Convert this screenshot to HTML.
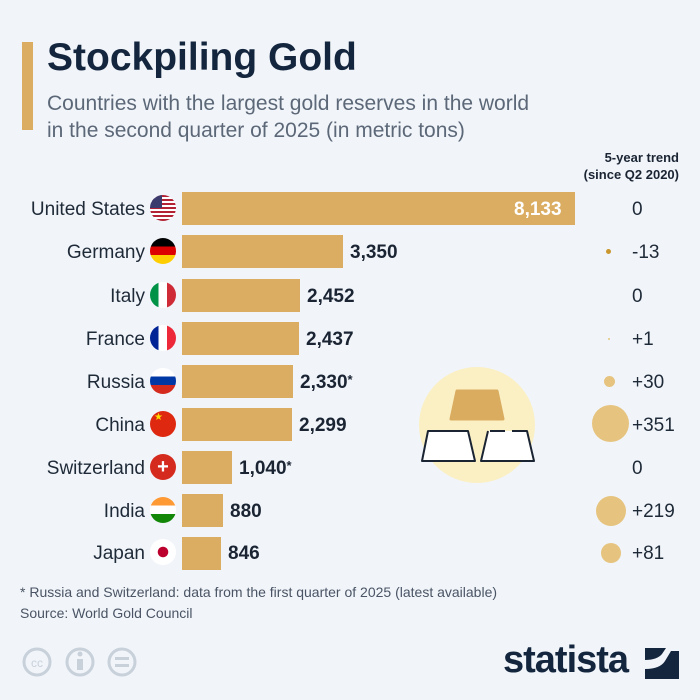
<!DOCTYPE html>
<html><head><meta charset="utf-8"><style>
body{margin:0;width:700px;height:700px;background:#f1f5fa;font-family:"Liberation Sans",sans-serif;position:relative;overflow:hidden;color:#1a2433}
.a{position:absolute;white-space:nowrap}
.lab{position:absolute;right:555px;font-size:19px;color:#1f2a38;margin-top:2px}
.bar{position:absolute;left:182px;height:33px;background:#dbad63}
.val{position:absolute;font-size:19px;font-weight:bold;color:#1a2433;margin-top:2px}
.tr{position:absolute;left:632px;font-size:19px;color:#1f2a38;margin-top:2px}
.flag{position:absolute;left:150px;width:26px;height:26px;border-radius:50%;overflow:hidden}
.dot{position:absolute;border-radius:50%;background:#e6c47f}
</style></head><body>
<div class="a" style="left:22px;top:42px;width:11px;height:88px;background:#dbad63"></div>
<div class="a" style="left:47px;top:36px;font-size:39px;font-weight:bold;color:#14263e">Stockpiling Gold</div>
<div class="a" style="left:47px;top:90px;font-size:21px;line-height:27px;color:#5c6878">Countries with the largest gold reserves in the world<br>in the second quarter of 2025 (in metric tons)</div>
<div class="a" style="left:572px;top:149px;font-size:13px;font-weight:bold;line-height:17px;text-align:right;width:107px">5-year trend<br>(since Q2 2020)</div>

<svg class="a" style="left:0;top:0" width="700" height="700">
<circle cx="477" cy="425" r="58" fill="#fbefc4"/>
<path d="M457 391 h40 l6 28 h-52 z" fill="#d9ac60" stroke="#d9ac60" stroke-width="3" stroke-linejoin="round"/>
<path d="M428 431 h40 l7 30 h-53 z" fill="#fff" stroke="#1a2433" stroke-width="2" stroke-linejoin="round"/>
<path d="M490 431 h15 M512 431 h15 l7 30 h-53 l7 -30" fill="#fff" stroke="#1a2433" stroke-width="2" stroke-linejoin="round"/>
<g fill="none" stroke="#c8d0da" stroke-width="3">
<circle cx="37" cy="662" r="13"/><circle cx="80" cy="662" r="13"/><circle cx="122" cy="662" r="13"/></g>
<text x="37" y="667" font-size="12" text-anchor="middle" fill="#c8d0da" font-family="Liberation Sans">cc</text>
<rect x="77" y="659" width="6" height="11" fill="#c8d0da"/><circle cx="80" cy="654" r="2.5" fill="#c8d0da"/>
<rect x="115" y="657" width="14" height="3" fill="#c8d0da"/><rect x="115" y="664" width="14" height="3" fill="#c8d0da"/>
<rect x="645" y="648" width="34" height="31" fill="#14263e"/>
<path d="M645 660 q12 0 17 -6 l4 -6 h13 v3 h-8 l-6 10 q-5 8 -20 8 z" fill="#f1f5fa"/>
</svg>
<div class="a" style="left:503px;top:639px;font-size:38px;font-weight:bold;color:#14263e;letter-spacing:-1px">statista</div>
<div class="a" style="left:20px;top:584px;font-size:14px;color:#4a5464">* Russia and Switzerland: data from the first quarter of 2025 (latest available)</div>
<div class="a" style="left:20px;top:605px;font-size:14px;color:#4a5464">Source: World Gold Council</div>

<div class="lab" style="top:197px">United States</div><div class="flag" style="top:195px;background:repeating-linear-gradient(#b22234 0 2px,#fff 2px 4px)"><div style="width:12px;height:13px;background:#3c3b6e"></div></div>
<div class="bar" style="top:192px;width:393px"></div><div class="val" style="left:514px;top:197px;color:#fff">8,133</div><div class="tr" style="top:197px">0</div>

<div class="lab" style="top:240px">Germany</div><div class="flag" style="top:238px;background:linear-gradient(#000 0 33%,#dd0000 33% 66%,#ffce00 66%)"></div>
<div class="bar" style="top:235px;width:161px"></div><div class="val" style="left:350px;top:240px">3,350</div><div class="dot" style="left:606px;top:249px;width:5px;height:5px;background:#c9972e"></div><div class="tr" style="top:240px">-13</div>

<div class="lab" style="top:284px">Italy</div><div class="flag" style="top:282px;background:linear-gradient(90deg,#009246 0 33%,#fff 33% 66%,#ce2b37 66%)"></div>
<div class="bar" style="top:279px;width:118px"></div><div class="val" style="left:307px;top:284px">2,452</div><div class="tr" style="top:284px">0</div>

<div class="lab" style="top:327px">France</div><div class="flag" style="top:325px;background:linear-gradient(90deg,#002395 0 33%,#fff 33% 66%,#ed2939 66%)"></div>
<div class="bar" style="top:322px;width:117px"></div><div class="val" style="left:306px;top:327px">2,437</div><div class="dot" style="left:608px;top:338px;width:2px;height:2px"></div><div class="tr" style="top:327px">+1</div>

<div class="lab" style="top:370px">Russia</div><div class="flag" style="top:368px;background:linear-gradient(#fff 0 33%,#0039a6 33% 66%,#d52b1e 66%)"></div>
<div class="bar" style="top:365px;width:111px"></div><div class="val" style="left:300px;top:370px">2,330<span style="font-size:13px;vertical-align:top">*</span></div><div class="dot" style="left:604px;top:376px;width:11px;height:11px"></div><div class="tr" style="top:370px">+30</div>

<div class="lab" style="top:413px">China</div><div class="flag" style="top:411px;background:#de2910;color:#ffde00;font-size:10px;line-height:14px;text-indent:4px">★</div>
<div class="bar" style="top:408px;width:110px"></div><div class="val" style="left:299px;top:413px">2,299</div><div class="dot" style="left:592px;top:405px;width:37px;height:37px"></div><div class="tr" style="top:413px">+351</div>

<div class="lab" style="top:456px">Switzerland</div><div class="flag" style="top:454px;background:#d52b1e;color:#fff;font-size:20px;line-height:26px;text-align:center;font-weight:bold">+</div>
<div class="bar" style="top:451px;width:50px"></div><div class="val" style="left:239px;top:456px">1,040<span style="font-size:13px;vertical-align:top">*</span></div><div class="tr" style="top:456px">0</div>

<div class="lab" style="top:499px">India</div><div class="flag" style="top:497px;background:linear-gradient(#ff9933 0 33%,#fff 33% 66%,#138808 66%)"></div>
<div class="bar" style="top:494px;width:41px"></div><div class="val" style="left:230px;top:499px">880</div><div class="dot" style="left:596px;top:496px;width:30px;height:30px"></div><div class="tr" style="top:499px">+219</div>

<div class="lab" style="top:541px">Japan</div><div class="flag" style="top:539px;background:radial-gradient(circle,#bc002d 0 5px,#fff 5.5px)"></div>
<div class="bar" style="top:537px;width:39px"></div><div class="val" style="left:228px;top:541px">846</div><div class="dot" style="left:601px;top:543px;width:20px;height:20px"></div><div class="tr" style="top:541px">+81</div>
</body></html>
